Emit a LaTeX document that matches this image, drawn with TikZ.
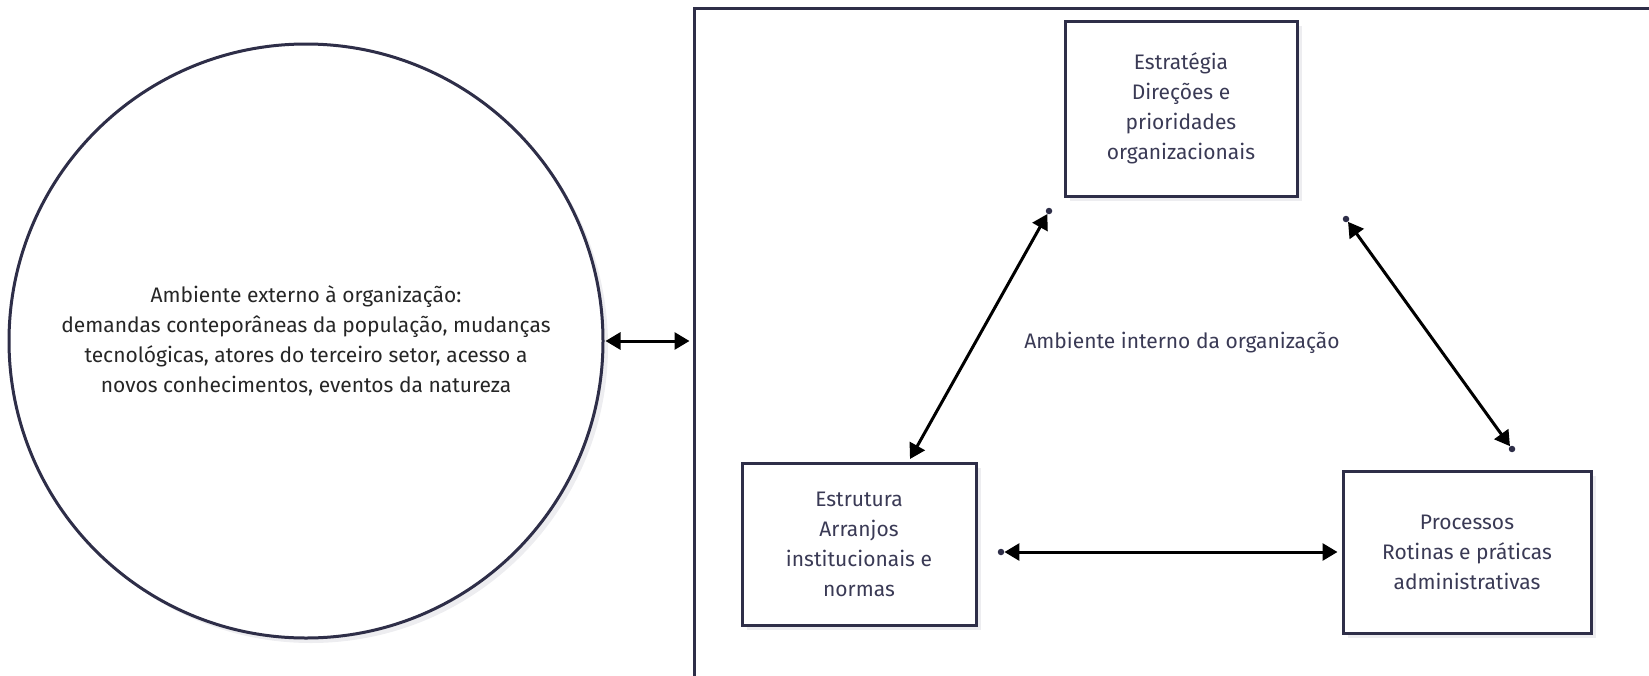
\documentclass[tikz,border=0pt]{standalone}
\usepackage{fontspec}
\setmainfont{Fira Sans}
\usetikzlibrary{positioning,arrows.meta,shadows}
\definecolor{linha}{HTML}{2E2E48}
\definecolor{texto}{HTML}{3A3A55}
\definecolor{escuro}{HTML}{262626}
\definecolor{sombra}{HTML}{EDEDF0}
\tikzset{font=\fontsize{21}{30}\selectfont}

\begin{document}
\begin{tikzpicture}[x=1pt, y=-1pt]
	\useasboundingbox (0, 0) rectangle (1649, 675);
	\clip (0, 0) rectangle (1649, 675);
	\begin{scope}
		\tikzstyle{every node}=[align=center, inner sep=1pt]
		\tikzstyle{sombreado}=[drop shadow={shadow xshift=5pt, shadow yshift=-5pt, fill=sombra, opacity=1}]
		\tikzstyle{caixa}=[draw=linha, line width=3pt, fill=white, text=texto, sombreado]
		\tikzstyle{ponto}=[circle, fill=linha, inner sep=0pt, minimum size=6.5pt]
		\tikzstyle{seta}=[line width=3pt, {Triangle[length=15pt, width=17pt]}-{Triangle[length=15pt, width=17pt]}]

		% ambiente externo e interno
		\node[caixa, circle, minimum size=594pt, text=escuro] (ext) at (306, 341)
			{Ambiente externo à organização:\\demandas conteporâneas da população, mudanças\\tecnológicas, atores do terceiro setor, acesso a\\novos conhecimentos, eventos da natureza};
		\node[caixa, minimum width=1006pt, minimum height=712pt] (amb) at (1197, 364) {};
		\node[text=texto] (lab) at (1182, 343) {Ambiente interno da organização};

		% os tres elementos
		\node[caixa, minimum width=232pt, minimum height=175pt] (est) at (1181, 108.5)
			{Estratégia\\Direções e\\prioridades\\organizacionais};
		\node[caixa, minimum width=234pt, minimum height=162pt] (estr) at (859, 544)
			{Estrutura\\Arranjos\\institucionais e\\normas};
		\node[caixa, minimum width=248pt, minimum height=162pt] (proc) at (1467, 552)
			{Processos\\Rotinas e práticas\\administrativas};

		% pontos de ligacao
		\node[ponto] (pa) at (1049, 211) {};
		\node[ponto] (pb) at (1346, 219) {};
		\node[ponto] (pc) at (1512, 449) {};
		\node[ponto] (pd) at (1001, 552) {};
		\coordinate (ea) at (910, 459);

		\draw[seta, shorten <=1pt, shorten >=3pt](ext.east) -- (ext.east -| amb.west);
		\draw[seta](pa) -- (ea);
		\draw[seta](pb) -- (pc);
		\draw[seta, shorten >=4pt](pd) -- (proc.west);
	\end{scope}
\end{tikzpicture}
\end{document}
